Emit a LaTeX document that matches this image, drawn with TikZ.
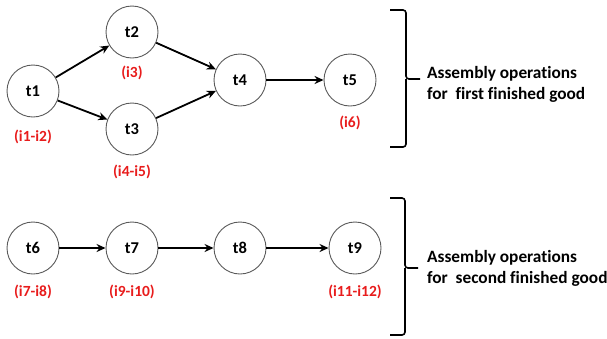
\documentclass[tikz,border=0pt]{standalone}
\usepackage{fontspec}
\setmainfont{Carlito}[Ligatures={NoCommon}]
\usetikzlibrary{arrows.meta}
\definecolor{labelred}{RGB}{232,28,28}
\definecolor{ringgray}{RGB}{90,90,90}
\tikzset{
  task/.style={circle, draw=ringgray, line width=0.9pt, fill=white,
    minimum size=52pt, inner sep=0pt, font=\fontsize{16.5}{18}\selectfont\bfseries},
  items/.style={text=labelred, font=\fontsize{15.5}{17}\selectfont\bfseries},
  flow/.style={line width=1.8pt, -{Stealth[length=9pt,width=8pt]}},
  bracket/.style={line width=1.6pt, rounded corners=3pt},
  caption/.style={anchor=west, align=left, inner sep=0pt,
    font=\fontsize{17.3}{21}\selectfont\bfseries}
}
\begin{document}
\begin{tikzpicture}[x=1pt,y=-1pt]
\useasboundingbox (0,0) rectangle (607,338);

% first finished good
\node[task] (t1) at (33,91)  {t1};
\node[task] (t2) at (132,32) {t2};
\node[task] (t3) at (132,129) {t3};
\node[task] (t4) at (240,80) {t4};
\node[task] (t5) at (350,80) {t5};

\node[items] (l1) at (33,137)  {(i1-i2)};
\node[items] (l2) at (132,73)  {(i3)};
\node[items] (l3) at (132,172) {(i4-i5)};
\node[items] (l5) at (350,123) {(i6)};

\draw[flow] (t1) -- (t2);
\draw[flow] (t1) -- (t3);
\draw[flow] (t2) -- (t4);
\draw[flow] (t3) -- (t4);
\draw[flow] (t4) -- (t5);

% second finished good
\node[task] (t6) at (33,248)  {t6};
\node[task] (t7) at (132,248) {t7};
\node[task] (t8) at (240,248) {t8};
\node[task] (t9) at (355,248) {t9};

\node[items] (l6) at (33,292)  {(i7-i8)};
\node[items] (l7) at (132,292) {(i9-i10)};
\node[items] (l9) at (355,292) {(i11-i12)};

\draw[flow] (t6) -- (t7);
\draw[flow] (t7) -- (t8);
\draw[flow] (t8) -- (t9);

% grouping brackets
\draw[bracket] (390,10) -- (406,10) -- (406,79) -- (420,79);
\draw[bracket] (390,147) -- (406,147) -- (406,79);
\draw[bracket] (390,198) -- (405,198) -- (405,268) -- (418,268);
\draw[bracket] (390,335) -- (405,335) -- (405,268);

\node[caption] (c1) at (427,84)  {Assembly operations\\for\ \ first finished good};
\node[caption] (c2) at (427,268) {Assembly operations\\for\ \ second finished good};
\end{tikzpicture}
\end{document}
